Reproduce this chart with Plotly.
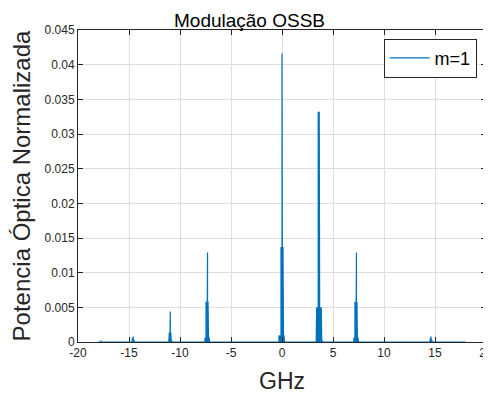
import plotly.graph_objects as go

# Spectral clusters: centre frequency (GHz) and power at fine offsets (GHz)
offsets = [-0.3, -0.25, -0.2, -0.15, -0.1, -0.05, 0.0, 0.05, 0.1, 0.15, 0.2, 0.25, 0.3]
centers = [-17.75, -14.6, -10.95, -7.3, 0.0, 3.65, 7.3, 14.6]
powers = [
    [0, 0, 0, 0, 0, 0, 0.0002, 0, 0, 0, 0, 0, 0],
    [0, 0, 0, 0, 0.0003, 0.0006, 0.0008, 0.0006, 0.0003, 0, 0, 0, 0],
    [0, 0, 0, 0.0002, 0.00138, 0.00138, 0.0044, 0.00138, 0.00138, 0.0002, 0, 0, 0],
    [0, 0.00066, 0.00066, 0.0058, 0.0058, 0.0058, 0.0129, 0.0058, 0.0058, 0.00066, 0.00066, 0, 0],
    [0.00095, 0.00095, 0.00095, 0.00095, 0.0137, 0.0137, 0.0416, 0.0137, 0.0137, 0.00095, 0.00095, 0.00095, 0],
    [0.0002, 0.005, 0.005, 0.005, 0.0332, 0.0332, 0.0332, 0.0332, 0.005, 0.005, 0.005, 0.0002, 0.0002],
    [0, 0.00066, 0.00066, 0.0058, 0.0058, 0.0058, 0.0129, 0.0058, 0.0058, 0.00066, 0.00066, 0, 0],
    [0, 0, 0, 0, 0.0003, 0.0006, 0.0008, 0.0006, 0.0003, 0, 0, 0, 0],
]
f_start, f_stop = -18.0, 18.0

x_ticks = [-20, -15, -10, -5, 0, 5, 10, 15, 20]
x_labels = ["-20", "-15", "-10", "-5", "0", "5", "10", "15", "20"]
y_ticks = [0, 0.005, 0.01, 0.015, 0.02, 0.025, 0.03, 0.035, 0.04, 0.045]
y_labels = ["0", "0.005", "0.01", "0.015", "0.02", "0.025", "0.03", "0.035", "0.04", "0.045"]

xs, ys = [f_start], [0]
for c, plist in zip(centers, powers):
    for o, p in zip(offsets, plist):
        if p > 0:
            f = c + o
            xs += [f, f, f]
            ys += [0, p, 0]
xs.append(f_stop)
ys.append(0)

FONT = "Liberation Sans, Arial, Helvetica, sans-serif"
fig = go.Figure()
fig.add_trace(go.Scatter(x=xs, y=ys, mode="lines", name="m=1",
                         line=dict(color="#0072BD", width=1.2)))

axis_common = dict(
    showline=True, linecolor="#262626", linewidth=1, mirror="ticks",
    ticks="inside", ticklen=5, tickcolor="#262626",
    showgrid=True, gridcolor="#dfdfdf", gridwidth=1, zeroline=False,
    tickfont=dict(family=FONT, size=12, color="#262626"),
    ticklabeloverflow="allow",
    automargin=False,
)
fig.update_layout(
    width=483, height=386,
    margin=dict(l=70, r=5, t=22, b=52),
    paper_bgcolor="white", plot_bgcolor="white",
    title=dict(text="Modulação OSSB", x=0.5, xanchor="center", y=0.969, yanchor="middle",
               automargin=False,
               font=dict(family=FONT, size=19, color="black")),
    showlegend=True,
    legend=dict(x=0.977, xanchor="right", y=0.972, yanchor="top",
                bgcolor="white", bordercolor="#262626", borderwidth=1,
                itemwidth=40,
                font=dict(family=FONT, size=18, color="black")),
    xaxis=dict(range=[-20, 20], tickvals=x_ticks, ticktext=x_labels,
               title=dict(text="GHz", font=dict(family=FONT, size=23, color="#262626")),
               **axis_common),
    yaxis=dict(range=[0, 0.045], tickvals=y_ticks, ticktext=y_labels,
               title=dict(text="Potencia Óptica Normalizada", font=dict(family=FONT, size=24, color="#262626")),
               **axis_common),
)
fig.write_html("out.html")
